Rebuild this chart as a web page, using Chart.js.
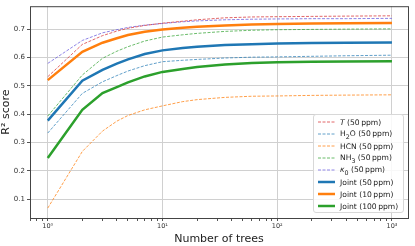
<!DOCTYPE html>
<html lang="en">
<head>
    <meta charset="UTF-8">
    <title>R2 score vs number of trees</title>
    <style>
        body {
            margin: 0;
            padding: 0;
            background: #fff;
            font-family: "DejaVu Sans", sans-serif;
        }

        .wrap {
            position: relative;
            width: 415px;
            height: 246px;
        }

        /* legend sits in the lower right corner of the plot */
        .legend {
            position: absolute;
            left: 313px;
            top: 114px;
            width: 91px;
            height: 99px;
            box-sizing: border-box;
            border: 1px solid #d8d8d8;
            border-radius: 3px;
            background: rgba(255, 255, 255, 0.85);
            padding: 1px 0 0 4px;
            font-size: 7.6px;
            color: #222;
        }

        .legend .row {
            display: flex;
            align-items: center;
            height: 12px;
            white-space: nowrap;
        }

        .legend svg {
            margin-right: 5px;
        }
    </style>
    <script src="https://cdn.jsdelivr.net/npm/chart.js"></script>
</head>
<body>
    <div class="wrap">
        <canvas id="chart" width="415" height="246"></canvas>
        <div class="legend" id="legend"></div>
    </div>

    <script>
        // number of trees
        const nTrees = [1, 2, 3, 4, 5, 7, 10, 15, 20, 35, 60, 100, 200, 400, 1000];

        // R^2 per model
        const scoreT     = [0.532, 0.646, 0.677, 0.693, 0.703, 0.713, 0.721, 0.728, 0.733, 0.740, 0.743, 0.744, 0.745, 0.746, 0.747];
        const scoreH2O   = [0.333, 0.473, 0.514, 0.536, 0.552, 0.571, 0.585, 0.590, 0.593, 0.598, 0.601, 0.602, 0.604, 0.606, 0.608];
        const scoreHCN   = [0.068, 0.268, 0.340, 0.375, 0.395, 0.415, 0.429, 0.444, 0.451, 0.459, 0.463, 0.464, 0.466, 0.467, 0.468];
        const scoreNH3   = [0.393, 0.538, 0.597, 0.622, 0.638, 0.658, 0.672, 0.680, 0.685, 0.692, 0.696, 0.698, 0.699, 0.700, 0.701];
        const scoreKappa = [0.579, 0.660, 0.687, 0.698, 0.706, 0.714, 0.720, 0.726, 0.729, 0.733, 0.735, 0.736, 0.737, 0.737, 0.738];
        const joint50    = [0.377, 0.518, 0.556, 0.578, 0.593, 0.612, 0.625, 0.633, 0.638, 0.644, 0.647, 0.649, 0.651, 0.652, 0.653];
        const joint10    = [0.520, 0.620, 0.652, 0.668, 0.679, 0.691, 0.699, 0.705, 0.708, 0.713, 0.716, 0.718, 0.720, 0.721, 0.722];
        const joint100   = [0.245, 0.415, 0.474, 0.495, 0.512, 0.533, 0.549, 0.559, 0.566, 0.575, 0.580, 0.583, 0.585, 0.586, 0.587];

        const yTicks = [0.1, 0.2, 0.3, 0.4, 0.5, 0.6, 0.7];
        const xMajor = [1, 10, 100, 1000];
        const xMajorLabels = ['10\u2070', '10\u00b9', '10\u00b2', '10\u00b3'];

        const series = [
            { label: '<i>T</i> (50\u2009ppm)', data: scoreT, color: 'rgba(214, 39, 40, 0.7)', dashed: true },
            { label: 'H<sub>2</sub>O (50\u2009ppm)', data: scoreH2O, color: 'rgba(31, 119, 180, 0.7)', dashed: true },
            { label: 'HCN (50\u2009ppm)', data: scoreHCN, color: 'rgba(255, 127, 14, 0.75)', dashed: true },
            { label: 'NH<sub>3</sub> (50\u2009ppm)', data: scoreNH3, color: 'rgba(44, 160, 44, 0.7)', dashed: true },
            { label: '<i>\u03ba</i><sub>0</sub> (50\u2009ppm)', data: scoreKappa, color: 'rgba(95, 80, 220, 0.7)', dashed: true },
            { label: 'Joint (50\u2009ppm)', data: joint50, color: '#1f77b4', dashed: false },
            { label: 'Joint (10\u2009ppm)', data: joint10, color: '#ff7f0e', dashed: false },
            { label: 'Joint (100\u2009ppm)', data: joint100, color: '#2ca02c', dashed: false }
        ];

        const datasets = series.map(s => ({
            label: s.label,
            data: s.data.map((v, i) => ({ x: nTrees[i], y: v })),
            borderColor: s.color,
            borderWidth: s.dashed ? 1 : 2.5,
            borderDash: s.dashed ? [3, 1.5] : [],
            pointRadius: 0,
            tension: 0,
            fill: false,
            order: s.dashed ? 1 : 0
        }));

        // legend in html so sub/italics work
        const legendEl = document.getElementById('legend');
        series.forEach(s => {
            const row = document.createElement('div');
            row.className = 'row';
            const dash = s.dashed ? ' stroke-dasharray="3 1.5"' : '';
            const w = s.dashed ? 1 : 2.5;
            row.innerHTML = '<svg width="17" height="6"><line x1="0" y1="3" x2="17" y2="3" stroke="' + s.color +
                '" stroke-width="' + w + '"' + dash + '/></svg><span>' + s.label + '</span>';
            legendEl.appendChild(row);
        });

        // box around the plot area like matplotlib spines
        const frame = {
            id: 'frame',
            afterDraw(chart) {
                const a = chart.chartArea;
                const ctx = chart.ctx;
                ctx.save();
                ctx.strokeStyle = '#444';
                ctx.lineWidth = 1;
                ctx.strokeRect(a.left + 0.5, a.top + 0.5, a.right - a.left, a.bottom - a.top);
                ctx.restore();
            }
        };

        new Chart(document.getElementById('chart').getContext('2d'), {
            type: 'line',
            data: { datasets: datasets },
            plugins: [frame],
            options: {
                responsive: false,
                animation: false,
                layout: { padding: { top: 6, right: 7, left: 0, bottom: 0 } },
                plugins: {
                    legend: { display: false },
                    tooltip: { enabled: false }
                },
                scales: {
                    x: {
                        type: 'logarithmic',
                        min: 0.71,
                        max: 1380,
                        afterBuildTicks(scale) {
                            const t = [];
                            [0.1, 1, 10, 100, 1000].forEach(d => {
                                for (let k = 1; k < 10; k++) {
                                    const v = d * k;
                                    if (v >= scale.min && v <= scale.max) t.push({ value: v, major: k === 1 });
                                }
                            });
                            scale.ticks = t;
                        },
                        afterFit(scale) { scale.height = 28; },
                        ticks: {
                            autoSkip: false,
                            maxRotation: 0,
                            padding: 1,
                            font: { size: 6.5, family: 'DejaVu Sans' },
                            color: '#333',
                            callback(v) {
                                const i = xMajor.indexOf(v);
                                return i >= 0 ? xMajorLabels[i] : '';
                            }
                        },
                        grid: {
                            color: ctx => (ctx.tick && xMajor.includes(ctx.tick.value)) ? '#d0d0d0' : 'rgba(0,0,0,0)',
                            tickColor: '#555',
                            tickLength: 3
                        },
                        border: { display: false },
                        title: {
                            display: true,
                            text: 'Number of trees',
                            font: { size: 11, family: 'DejaVu Sans' },
                            color: '#222',
                            padding: { top: 0, bottom: 0 }
                        }
                    },
                    y: {
                        min: 0.033,
                        max: 0.781,
                        afterBuildTicks(scale) {
                            scale.ticks = yTicks.map(v => ({ value: v }));
                        },
                        afterFit(scale) { scale.width = 30; },
                        ticks: {
                            padding: 2,
                            font: { size: 7, family: 'DejaVu Sans' },
                            color: '#333',
                            callback: v => v.toFixed(1)
                        },
                        grid: {
                            color: '#d0d0d0',
                            tickColor: '#555',
                            tickLength: 3
                        },
                        border: { display: false },
                        title: {
                            display: true,
                            text: 'R\u00b2 score',
                            font: { size: 11, family: 'DejaVu Sans' },
                            color: '#222',
                            padding: { top: 0, bottom: 0 }
                        }
                    }
                }
            }
        });
    </script>
</body>
</html>
